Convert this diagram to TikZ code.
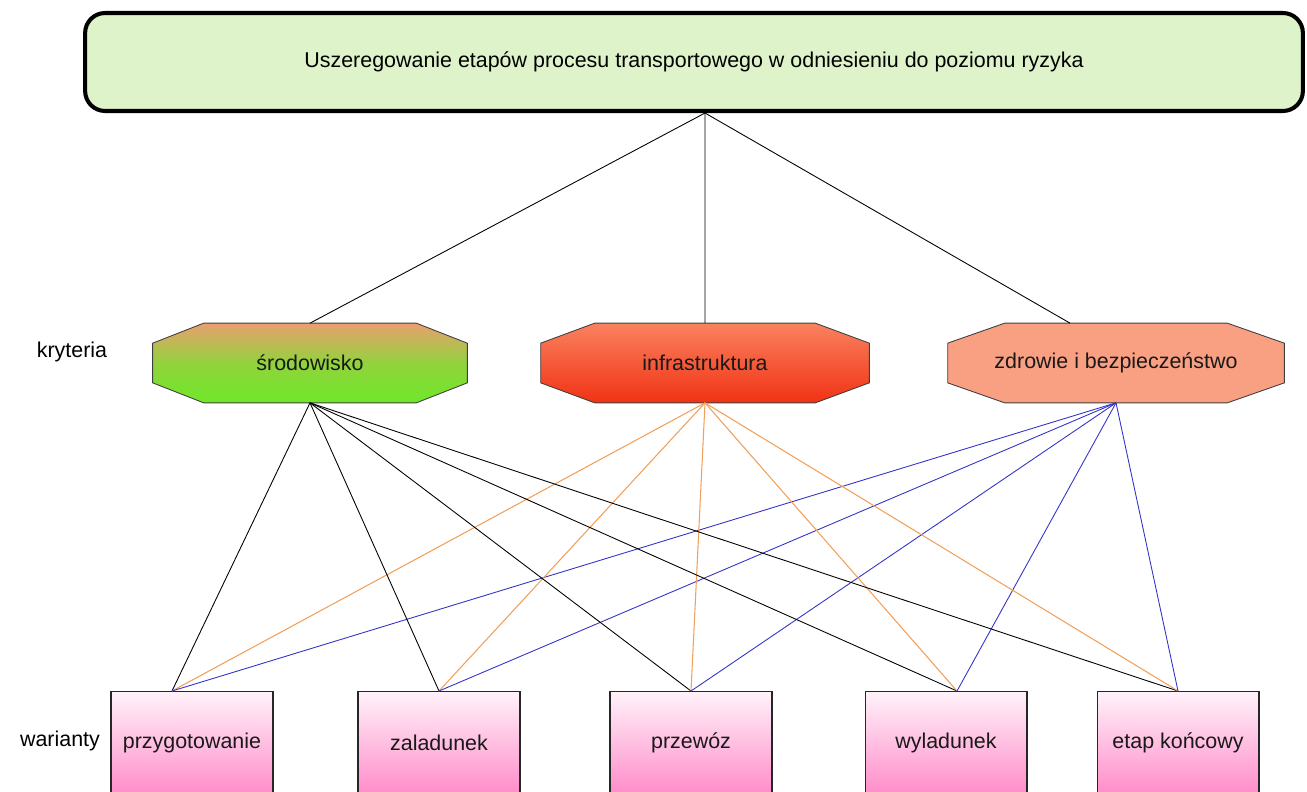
\documentclass[tikz,border=0pt]{standalone}
\usepackage{fontspec}
\setmainfont{Liberation Sans}
\usetikzlibrary{positioning,calc,backgrounds}

% octagon round a node: #1 node, #2 horizontal cut, #3 vertical cut
\newcommand{\critoct}[3]{($(#1.north west)+(#2,0)$) -- ($(#1.north east)+(-#2,0)$) -- ($(#1.north east)+(0,#3)$) -- ($(#1.south east)+(0,-#3)$) -- ($(#1.south east)+(-#2,0)$) -- ($(#1.south west)+(#2,0)$) -- ($(#1.south west)+(0,-#3)$) -- ($(#1.north west)+(0,#3)$) -- cycle}

\begin{document}
\begin{tikzpicture}[x=0.02cm, y=-0.02cm,
    goalbox/.style={rectangle, rounded corners=0.4cm, draw=black, line width=2.3pt, fill=goalgreen, minimum width=24.36cm, minimum height=1.96cm, inner sep=0pt, font=\fontsize{12.2}{14}\selectfont},
    critbox/.style={rectangle, minimum height=1.58cm, inner sep=0pt, font=\fontsize{12.2}{14}\selectfont, text=black!90},
    critline/.style={draw=black!75, line width=0.5pt},
    varbox/.style={rectangle, draw=black!85, line width=0.6pt, minimum width=3.24cm, minimum height=2.06cm, inner sep=0pt, anchor=north, top color=varlight, bottom color=varpink, font=\fontsize{12.2}{14}\selectfont, text=black!90},
    sidelabel/.style={font=\fontsize{12.2}{14}\selectfont},
    toplink/.style={black, line width=0.5pt},
    srodlink/.style={black, line width=0.5pt},
    infralink/.style={linkorange, line width=0.6pt},
    zdrlink/.style={linkblue, line width=0.5pt}]
        \definecolor{goalgreen}{RGB}{222,243,201}
        \definecolor{srodtop}{RGB}{232,160,110}
        \definecolor{srodbottom}{RGB}{110,232,40}
        \definecolor{infratop}{RGB}{250,130,95}
        \definecolor{infrabottom}{RGB}{240,50,20}
        \definecolor{zdrfill}{RGB}{250,160,130}
        \definecolor{varlight}{RGB}{255,242,250}
        \definecolor{varpink}{RGB}{255,140,200}
        \definecolor{linkorange}{RGB}{240,160,90}
        \definecolor{linkblue}{RGB}{50,50,200}

        % page size as the reference
        \useasboundingbox (0,0) rectangle (1307,791);

        % goal on top
        \node[goalbox] (goal) at (694,62) {Uszeregowanie etapów procesu transportowego w odniesieniu do poziomu ryzyka};

        % criteria (text nodes, octagons drawn behind)
        \node[critbox, minimum width=6.28cm] (srod) at (310,363) {środowisko};
        \node[critbox, minimum width=6.56cm] (infra) at (705,363) {infrastruktura};
        \node[critbox, minimum width=6.72cm] (zdr) at (1116,363) {zdrowie i bezpieczeństwo};
        \node[sidelabel] (kryt) at (72,352) {kryteria};

        \begin{pgfonlayer}{background}
            \path[critline, top color=srodtop, bottom color=srodbottom, middle color=srodbottom!70!srodtop] \critoct{srod}{51}{20};
            \path[critline, top color=infratop, bottom color=infrabottom] \critoct{infra}{54}{20};
            \path[critline, fill=zdrfill] \critoct{zdr}{57}{20};
        \end{pgfonlayer}

        % variants (boxes, cut by the page bottom)
        \node[varbox] (przyg) at (192,691) {przygotowanie};
        \node[varbox] (zalad) at (439,691) {zaladunek};
        \node[varbox] (przew) at (691,691) {przewóz};
        \node[varbox] (wylad) at (946,691) {wyladunek};
        \node[varbox] (konc) at (1178,691) {etap końcowy};
        \node[sidelabel] (war) at (60,741) {warianty};

        % attach points off the middle
        \coordinate (goal-out) at ([xshift=0.22cm]goal.south);
        \coordinate (zdr-in) at ([xshift=-0.92cm]zdr.north);
        \coordinate (przyg-in) at ([xshift=-0.4cm]przyg.north);
        \coordinate (wylad-in) at ([xshift=0.22cm]wylad.north);

        % goal to criteria
        \draw[toplink] (goal-out) -- (srod.north);
        \draw[toplink] (goal-out) -- (infra.north);
        \draw[toplink] (goal-out) -- (zdr-in);

        % criteria to variants
        \foreach \v in {przyg-in, zalad.north, przew.north, wylad-in, konc.north} {
            \draw[srodlink] (srod.south) -- (\v);
            \draw[infralink] (infra.south) -- (\v);
            \draw[zdrlink] (zdr.south) -- (\v);
        }
    \end{tikzpicture}
\end{document}
